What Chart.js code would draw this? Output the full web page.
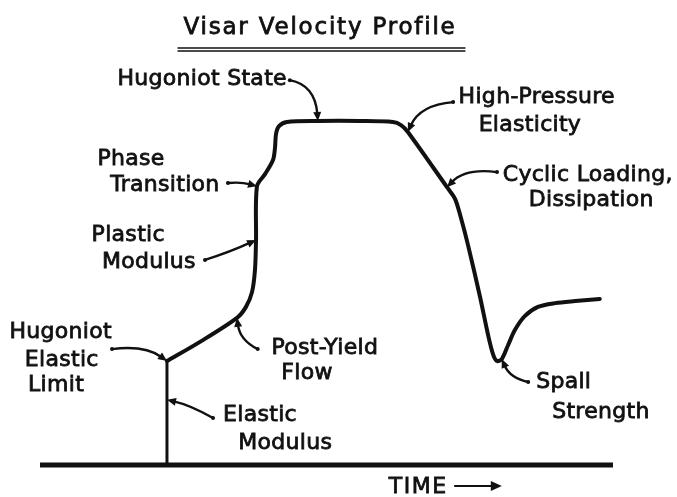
<!DOCTYPE html>
<html>
<head>
<meta charset="utf-8">
<script src="https://cdn.jsdelivr.net/npm/chart.js@4"></script>
<style>
  html, body { margin: 0; padding: 0; background: #fff; }
  .chart-container { width: 677px; height: 497px; position: relative; }
</style>
</head>
<body>
<div class="chart-container">
  <canvas id="visar"></canvas>
</div>
<script>
// free-surface velocity vs. time, arbitrary units (0 = at rest, 100 = Hugoniot state)
const time = [
  22.16, 27.92, 34.38, 35.95, 37.0, 37.52, 37.7, 37.87, 39.27, 40.66, 41.01, 41.19,
  41.71, 43.1, 48.5, 55.85, 61.6, 63.0, 64.2, 71.03, 72.43, 73.47, 74.7, 76.8,
  78.2, 79.1, 79.76, 80.6, 81.7, 82.9, 84.6, 86.9, 89.9, 93.4, 97.7
];
const velocity = [
  30.3, 35.9, 42.9, 46.1, 50.4, 56.9, 65.6, 81.3, 84.8, 88.9, 92.4, 96.5,
  98.8, 100, 100.3, 100.3, 100, 99.1, 97.1, 81.0, 77.6, 72.0, 64.1, 49.0,
  37.9, 32.1, 30.3, 30.9, 35.0, 39.4, 43.4, 46.1, 47.2, 47.8, 48.4
];

// elastic precursor rising from rest up to the HEL
const elasticTime = [22.16, 22.16, 22.16];
const elasticVelocity = [0, 19, 30.3];

// time axis line
const axisTime = [0, 100];
const axisVelocity = [0, 0];

const toPoints = (xs, ys) => xs.map((x, i) => ({ x: x, y: ys[i] }));

// callouts: label lines, where the leader starts, how it bends, and what it points to
const notes = [
  { lines: ["Hugoniot State"], at: [[28.3, 112.5]], tail: [43.6, 112.2], bend: [48.0, 110.8], tip: { set: 2, i: 14 } },
  { lines: ["High-Pressure", "Elasticity"], at: [[86.7, 107.3], [85.5, 99.1]], tail: [72.1, 105.8], bend: [66.3, 105.0], tip: { set: 2, i: 18 } },
  { lines: ["Phase", "Transition"], at: [[15.9, 89.2], [21.8, 81.6]], tail: [32.8, 82.2], bend: [35.0, 82.6], tip: { set: 2, i: 7 } },
  { lines: ["Cyclic Loading,", "Dissipation"], at: [[95.6, 84.5], [96.2, 77.3]], tail: [79.76, 85.4], bend: [74.2, 86.6], tip: { set: 2, i: 19 } },
  { lines: ["Plastic", "Modulus"], at: [[15.4, 67.1], [19.0, 59.2]], tail: [28.8, 59.8], bend: [33.2, 62.1], tip: { set: 2, i: 6 } },
  { lines: ["Hugoniot", "Elastic", "Limit"], at: [[3.6, 38.8], [3.8, 30.6], [2.8, 23.3]], tail: [12.57, 33.8], bend: [18.3, 35.0], tip: { set: 2, i: 0 } },
  { lines: ["Post-Yield", "Flow"], at: [[49.7, 34.1], [46.6, 26.8]], tail: [38.0, 33.8], bend: [34.9, 36.4], tip: { set: 2, i: 2 } },
  { lines: ["Elastic", "Modulus"], at: [[38.4, 14.6], [42.8, 6.4]], tail: [30.2, 13.7], bend: [26.2, 17.5], tip: { set: 1, i: 1 } },
  { lines: ["Spall", "Strength"], at: [[91.4, 24.2], [97.9, 15.5]], tail: [85.2, 24.2], bend: [82.0, 25.4], tip: { set: 2, i: 27 } }
];

const INK = "#111";
const FONT = '22px "DejaVu Sans", sans-serif';
const TITLE_FONT = '23px "DejaVu Sans", sans-serif';

function drawText(ctx, text, x, y, spacing) {
  ctx.save();
  ctx.letterSpacing = (spacing || 0) + "px";
  ctx.lineWidth = 0.8;
  ctx.fillText(text, x, y);
  ctx.strokeText(text, x, y);
  ctx.restore();
}

function arrowHead(ctx, x, y, ang, len, half) {
  ctx.beginPath();
  ctx.moveTo(x, y);
  ctx.lineTo(x - len * Math.cos(ang) + half * Math.sin(ang), y - len * Math.sin(ang) - half * Math.cos(ang));
  ctx.lineTo(x - len * Math.cos(ang) - half * Math.sin(ang), y - len * Math.sin(ang) + half * Math.cos(ang));
  ctx.closePath();
  ctx.fill();
}

const sketchNotes = {
  id: "sketchNotes",
  afterDatasetsDraw(chart) {
    const { ctx, scales: { x, y } } = chart;
    const px = (p) => [x.getPixelForValue(p[0]), y.getPixelForValue(p[1])];
    ctx.save();
    ctx.fillStyle = INK;
    ctx.strokeStyle = INK;
    ctx.textAlign = "center";
    ctx.textBaseline = "middle";
    ctx.lineCap = "round";

    // heading with its double rule
    const cx = 320;
    ctx.font = TITLE_FONT;
    drawText(ctx, "Visar Velocity Profile", cx, 28, 1.8);
    ctx.lineWidth = 1.3;
    ctx.beginPath();
    ctx.moveTo(cx - 142, 48); ctx.lineTo(cx + 145, 48);
    ctx.moveTo(cx - 142, 51); ctx.lineTo(cx + 145, 51);
    ctx.stroke();

    ctx.font = FONT;
    notes.forEach((n) => {
      n.lines.forEach((t, k) => {
        const p = px(n.at[k]);
        drawText(ctx, t, p[0], p[1], 0.3);
      });
      const d = chart.data.datasets[n.tip.set].data[n.tip.i];
      const [tx, ty] = px([d.x, d.y]);
      const [ax, ay] = px(n.tail);
      const [bx, by] = px(n.bend);
      const ang = Math.atan2(ty - by, tx - bx);
      const ex = tx - 7 * Math.cos(ang), ey = ty - 7 * Math.sin(ang);
      ctx.lineWidth = 2.4;
      ctx.beginPath();
      ctx.moveTo(ax, ay);
      ctx.quadraticCurveTo(bx, by, ex, ey);
      ctx.stroke();
      // heavier nib where the leader starts
      ctx.beginPath();
      ctx.arc(ax, ay, 2, 0, Math.PI * 2);
      ctx.fill();
      arrowHead(ctx, tx, ty, ang, 9, 4);
    });

    // time direction marker
    const [lx, ly] = px([66.0, -6.4]);
    drawText(ctx, "TIME", lx, ly, 1.5);
    const [s0, s1] = px([72.4, -6.1]);
    const [e0] = px([80.6, -6.1]);
    ctx.lineWidth = 2;
    ctx.beginPath();
    ctx.moveTo(s0, s1); ctx.lineTo(e0 - 8, s1);
    ctx.stroke();
    arrowHead(ctx, e0, s1, 0, 11, 5);
    ctx.restore();
  }
};

new Chart(document.getElementById("visar"), {
  type: "scatter",
  data: {
    datasets: [
      { data: toPoints(axisTime, axisVelocity), showLine: true, borderColor: INK, borderWidth: 5, pointRadius: 0, tension: 0, borderCapStyle: "butt" },
      { data: toPoints(elasticTime, elasticVelocity), showLine: true, borderColor: INK, borderWidth: 3, pointRadius: 0, tension: 0 },
      { data: toPoints(time, velocity), showLine: true, borderColor: INK, borderWidth: 4, pointRadius: 0, tension: 0.3, borderJoinStyle: "round", borderCapStyle: "round" }
    ]
  },
  options: {
    responsive: true,
    maintainAspectRatio: false,
    animation: false,
    layout: { padding: 0 },
    scales: {
      x: { type: "linear", min: -6.98, max: 111.17, display: false },
      y: { type: "linear", min: -9.33, max: 135.57, display: false }
    },
    plugins: {
      legend: { display: false },
      tooltip: { enabled: false }
    }
  },
  plugins: [sketchNotes]
});
</script>
</body>
</html>
